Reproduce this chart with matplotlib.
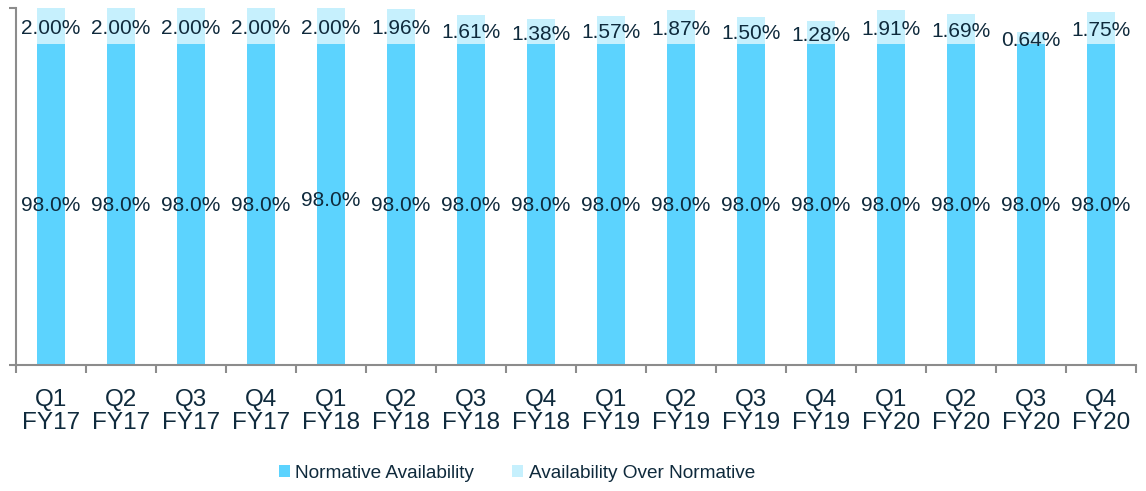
import matplotlib
matplotlib.use("Agg")
import matplotlib.pyplot as plt
import numpy as np
from matplotlib.ticker import FixedLocator, NullFormatter

plt.rcParams['font.family'] = ['Liberation Sans', 'DejaVu Sans']

categories = ["Q1\nFY17", "Q2\nFY17", "Q3\nFY17", "Q4\nFY17",
              "Q1\nFY18", "Q2\nFY18", "Q3\nFY18", "Q4\nFY18",
              "Q1\nFY19", "Q2\nFY19", "Q3\nFY19", "Q4\nFY19",
              "Q1\nFY20", "Q2\nFY20", "Q3\nFY20", "Q4\nFY20"]
normative = [98.0] * 16
over_normative = [2.00, 2.00, 2.00, 2.00, 2.00, 1.96, 1.61, 1.38,
                  1.57, 1.87, 1.50, 1.28, 1.91, 1.69, 0.64, 1.75]
over_labels = ["2.00%", "2.00%", "2.00%", "2.00%", "2.00%", "1.96%", "1.61%", "1.38%",
               "1.57%", "1.87%", "1.50%", "1.28%", "1.91%", "1.69%", "0.64%", "1.75%"]
norm_labels = ["98.0%"] * 16

c_norm = "#5CD3FE"
c_over = "#C6F0FD"
txt = "#0F2A3C"
spine_c = "#8C8C8C"

W, H = 1146, 491
fig = plt.figure(figsize=(W / 100, H / 100), dpi=100)
ax = fig.add_axes([16 / W, (H - 365) / H, (1136 - 16) / W, (365 - 8) / H])

x = np.arange(len(categories))
b1 = ax.bar(x, normative, width=0.4, color=c_norm, label="Normative Availability")
b2 = ax.bar(x, over_normative, width=0.4, bottom=normative, color=c_over,
            label="Availability Over Normative")

ymin, ymax = 80, 100
ax.set_ylim(ymin, ymax)
ax.set_xlim(-0.5, len(categories) - 0.5)

for i in range(len(categories)):
    dy = 4 if i == 4 else 0
    ax.annotate(norm_labels[i], (x[i], (ymin + normative[i]) / 2), xytext=(0, dy - 1),
                textcoords="offset points", ha="center", va="center",
                fontsize=15, color=txt)
    ax.annotate(over_labels[i], (x[i], normative[i] + over_normative[i] / 2),
                xytext=(0, -2), textcoords="offset points",
                ha="center", va="center", fontsize=15, color=txt)

for s in ["top", "right"]:
    ax.spines[s].set_visible(False)
for s in ["left", "bottom"]:
    ax.spines[s].set_color(spine_c)
    ax.spines[s].set_linewidth(1.5)

ax.set_yticks([ymin, ymax])
ax.set_yticklabels([])
ax.tick_params(axis="y", direction="out", length=5, width=1.5, color=spine_c)

ax.set_xticks(x)
ax.set_xticklabels(categories, fontsize=17.5, color=txt, linespacing=1.07)
ax.tick_params(axis="x", which="major", length=0, pad=17)
ax.xaxis.set_minor_locator(FixedLocator(np.arange(-0.5, len(categories), 1.0)))
ax.xaxis.set_minor_formatter(NullFormatter())
ax.tick_params(axis="x", which="minor", direction="out", length=6, width=1.5, color=spine_c)

leg = fig.legend(handles=[b1, b2], loc="center", bbox_to_anchor=(517 / W, (H - 473) / H),
                 ncol=2, frameon=False, fontsize=13.7, handlelength=0.55, handleheight=0.55,
                 handletextpad=0.3, columnspacing=2.0, labelcolor=txt)

fig.savefig("out.png", dpi=100)
